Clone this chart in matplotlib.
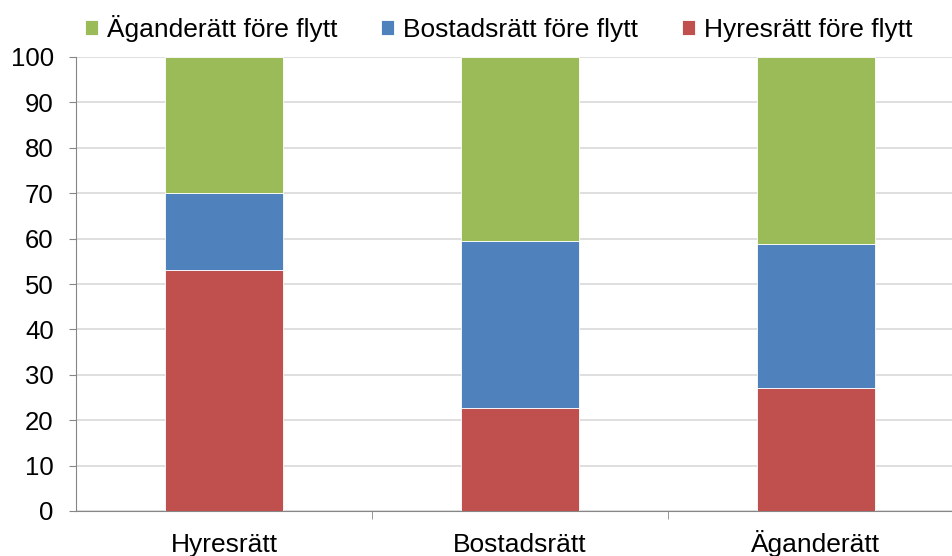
import matplotlib.pyplot as plt
import numpy as np

plt.rcParams['font.family'] = ['Liberation Sans', 'DejaVu Sans']

kategorier = ['Hyresrätt', 'Bostadsrätt', 'Äganderätt']
hyresratt = [53.0, 22.7, 27.1]
bostadsratt = [17.0, 36.8, 31.7]
aganderatt = [30.0, 40.5, 41.2]

fig = plt.figure(figsize=(9.53, 5.56), dpi=100)
ax = fig.add_axes([76/953, 45/556, 888/953, 454/556])

x = np.arange(len(kategorier))
b1 = np.array(hyresratt)
b2 = b1 + np.array(bostadsratt)

r = ax.bar(x, hyresratt, width=0.4, color='#c0504d', edgecolor='white', linewidth=0.6, zorder=3,
           label='Hyresrätt före flytt')
b = ax.bar(x, bostadsratt, bottom=b1, width=0.4, color='#4f81bd', edgecolor='white', linewidth=0.6,
           zorder=3, label='Bostadsrätt före flytt')
g = ax.bar(x, aganderatt, bottom=b2, width=0.4, color='#9bbb59', edgecolor='white', linewidth=0.6,
           zorder=3, label='Äganderätt före flytt')

ax.set_xlim(-0.5, 2.5)
ax.set_ylim(0, 100)
ax.set_yticks(np.arange(0, 101, 10))
ax.yaxis.grid(True, color='#d9d9d9', linewidth=1.2, zorder=0)

ax.set_xticks(x)
ax.set_xticklabels(kategorier)
ax.set_xticks([0.5, 1.5], minor=True)
ax.tick_params(axis='x', which='major', length=0, labelsize=19, pad=29.5)
ax.tick_params(axis='x', which='minor', length=6, color='#868686')
ax.tick_params(axis='y', length=5, color='#868686', labelsize=18.5, pad=11)
# samma baslinje for alla kategorinamn (Ä annars lagre)
for t in ax.get_xticklabels():
    t.set_verticalalignment('baseline')

for s in ['top', 'right']:
    ax.spines[s].set_visible(False)
for s in ['left', 'bottom']:
    ax.spines[s].set_color('#868686')

fig.legend(handles=[g, b, r], loc='center left', bbox_to_anchor=(85/953, 1 - 28/556), ncol=3,
           frameon=False, fontsize=19, handlelength=0.49, handleheight=0.49,
           handletextpad=0.34, columnspacing=1.67, borderpad=0, borderaxespad=0)

plt.savefig('out.png')
